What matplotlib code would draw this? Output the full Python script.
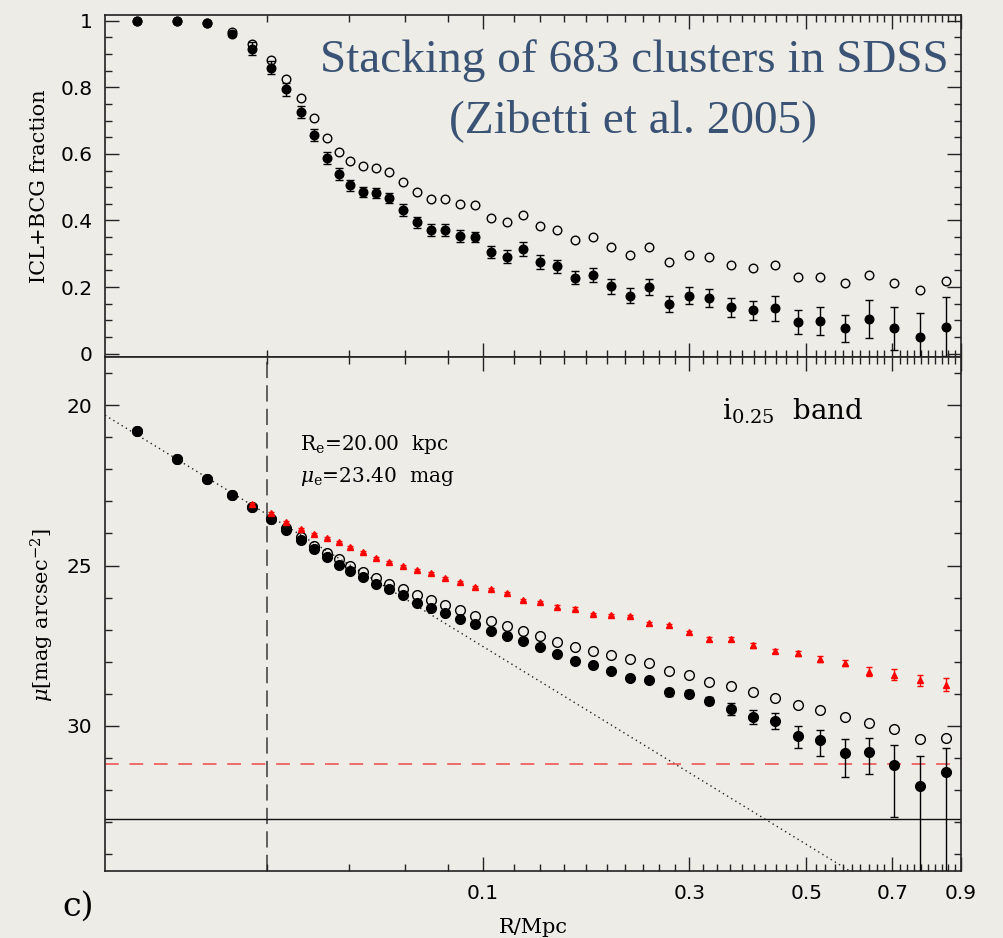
import numpy as np
import matplotlib
matplotlib.use("Agg")
import matplotlib.pyplot as plt
from matplotlib.ticker import FixedLocator, NullFormatter

plt.rcParams['mathtext.fontset'] = 'dejavuserif'

# radial bins (Mpc)
radius = [0.0049, 0.0080, 0.0111, 0.0144, 0.0175, 0.0207, 0.0238, 0.0270, 0.0302,
          0.0335, 0.0368, 0.0403, 0.0445, 0.0488, 0.0537, 0.0591, 0.0651, 0.0716,
          0.0788, 0.0866, 0.0952, 0.1050, 0.1155, 0.1268, 0.1398, 0.1536, 0.1691,
          0.1863, 0.2049, 0.2252, 0.2474, 0.2725, 0.2990, 0.3287, 0.3620, 0.3987,
          0.4381, 0.4824, 0.5290, 0.5832, 0.6411, 0.7049, 0.7764, 0.8533]

# ICL+BCG light fraction
frac_filled = [1.000, 1.000, 0.993, 0.961, 0.916, 0.859, 0.794, 0.726, 0.657, 0.588,
               0.540, 0.506, 0.486, 0.483, 0.467, 0.432, 0.394, 0.372, 0.371, 0.354,
               0.350, 0.305, 0.291, 0.314, 0.275, 0.262, 0.228, 0.236, 0.202, 0.174,
               0.200, 0.149, 0.174, 0.168, 0.139, 0.130, 0.136, 0.096, 0.098, 0.076,
               0.103, 0.076, 0.050, 0.081]
frac_err = [0.004, 0.004, 0.005, 0.008, 0.019, 0.019, 0.019, 0.018, 0.018, 0.018,
            0.018, 0.016, 0.015, 0.015, 0.016, 0.018, 0.016, 0.018, 0.018, 0.018,
            0.016, 0.018, 0.020, 0.020, 0.020, 0.020, 0.020, 0.021, 0.022, 0.022,
            0.023, 0.023, 0.025, 0.027, 0.028, 0.029, 0.037, 0.036, 0.041, 0.040,
            0.057, 0.065, 0.072, 0.088]
frac_open = [1.000, 1.000, 0.993, 0.966, 0.930, 0.881, 0.826, 0.768, 0.707, 0.649,
             0.607, 0.579, 0.563, 0.559, 0.546, 0.516, 0.485, 0.465, 0.464, 0.450,
             0.445, 0.408, 0.396, 0.416, 0.382, 0.371, 0.342, 0.349, 0.320, 0.296,
             0.319, 0.275, 0.296, 0.291, 0.266, 0.258, 0.265, 0.230, 0.231, 0.212,
             0.235, 0.213, 0.190, 0.218]

# surface brightness profiles (mag arcsec^-2)
mu_filled = [20.81, 21.68, 22.31, 22.80, 23.18, 23.55, 23.88, 24.21, 24.49, 24.74,
             24.98, 25.18, 25.36, 25.56, 25.74, 25.93, 26.16, 26.33, 26.49, 26.67,
             26.83, 27.04, 27.21, 27.35, 27.55, 27.76, 27.98, 28.09, 28.30, 28.50,
             28.56, 28.95, 28.99, 29.22, 29.47, 29.71, 29.84, 30.30, 30.45, 30.85,
             30.80, 31.22, 31.86, 31.43]
mu_err_lo = [0.02, 0.02, 0.02, 0.02, 0.02, 0.02, 0.02, 0.02, 0.02, 0.02,
             0.02, 0.02, 0.02, 0.02, 0.02, 0.02, 0.03, 0.03, 0.03, 0.03,
             0.03, 0.03, 0.04, 0.04, 0.04, 0.04, 0.05, 0.05, 0.05, 0.06,
             0.07, 0.10, 0.10, 0.11, 0.18, 0.20, 0.23, 0.30, 0.34, 0.44,
             0.43, 0.62, 0.94, 0.74]
mu_err_hi = [0.02, 0.02, 0.02, 0.02, 0.02, 0.02, 0.02, 0.02, 0.02, 0.02,
             0.02, 0.02, 0.02, 0.02, 0.02, 0.02, 0.03, 0.03, 0.03, 0.03,
             0.03, 0.03, 0.04, 0.04, 0.04, 0.04, 0.05, 0.05, 0.05, 0.06,
             0.07, 0.10, 0.10, 0.11, 0.18, 0.23, 0.26, 0.39, 0.49, 0.73,
             0.71, 1.61, 5.00, 5.00]
mu_open = [20.81, 21.68, 22.31, 22.80, 23.18, 23.55, 23.83, 24.11, 24.38, 24.60,
           24.81, 25.01, 25.19, 25.40, 25.56, 25.73, 25.92, 26.07, 26.24, 26.40,
           26.57, 26.72, 26.87, 27.03, 27.19, 27.37, 27.53, 27.66, 27.79, 27.91,
           28.05, 28.29, 28.41, 28.63, 28.75, 28.95, 29.12, 29.35, 29.51, 29.72,
           29.90, 30.10, 30.40, 30.37]

# red profile starts at the fifth bin
mu_red = [23.09, 23.37, 23.63, 23.85, 24.01, 24.15, 24.27, 24.43, 24.59, 24.75,
          24.89, 25.01, 25.13, 25.23, 25.39, 25.51, 25.67, 25.73, 25.86, 26.07,
          26.14, 26.28, 26.34, 26.51, 26.54, 26.57, 26.80, 26.86, 27.08, 27.28,
          27.30, 27.49, 27.67, 27.74, 27.91, 28.03, 28.31, 28.40, 28.58, 28.71]
mu_red_err = [0.03, 0.03, 0.03, 0.03, 0.03, 0.03, 0.03, 0.03, 0.03, 0.03,
              0.03, 0.03, 0.03, 0.03, 0.03, 0.03, 0.03, 0.03, 0.04, 0.04,
              0.04, 0.04, 0.04, 0.04, 0.04, 0.04, 0.05, 0.05, 0.05, 0.06,
              0.06, 0.07, 0.07, 0.07, 0.08, 0.10, 0.14, 0.17, 0.18, 0.21]

# de Vaucouleurs fit and limits
r_e = 0.02
mu_e = 23.40
mu_limit_red = 31.17
mu_limit_black = 32.9

x_min, x_max = 0.00314, 0.9

bg = '#eeece7'
fig = plt.figure(figsize=(10.04, 9.38), dpi=100, facecolor=bg)
ax1 = fig.add_axes([0.1046, 0.6194, 0.8526, 0.3646], facecolor=bg)
ax2 = fig.add_axes([0.1046, 0.0714, 0.8526, 0.5480], facecolor=bg)

fwd = lambda r: np.sign(r) * np.abs(r) ** 0.25
inv = lambda u: np.sign(u) * np.abs(u) ** 4

r = np.array(radius)
red_r = r[len(r) - len(mu_red):]

# --- top: ICL+BCG fraction ---
ax1.errorbar(r, frac_filled, yerr=frac_err, fmt='o', color='black', ms=6.2,
             capsize=2.8, elinewidth=1.0, capthick=1.0, zorder=3)
ax1.plot(r, frac_open, 'o', mfc='none', mec='black', mew=1.0, ms=6.2, zorder=2)
ax1.set_ylim(-0.01, 1.017)

# --- bottom: surface brightness ---
rr = np.linspace(x_min, x_max, 400)
ax2.plot(rr, mu_e + 8.3268 * ((rr / r_e) ** 0.25 - 1), color='#222222',
         ls=(0, (1, 2.5)), lw=1.0, zorder=1)
ax2.axvline(r_e, color='#555555', ls=(0, (9, 4)), lw=1.3, zorder=1)
ax2.axhline(mu_limit_red, color='#ee4848', ls=(0, (9, 7)), lw=1.1, zorder=1)
ax2.axhline(mu_limit_black, color='#111111', lw=1.0, zorder=1)

ax2.plot(r, mu_open, 'o', mfc='none', mec='black', mew=1.0, ms=7, zorder=2)
ax2.errorbar(r, mu_filled, yerr=[mu_err_lo, mu_err_hi], fmt='o', color='black',
             ms=7, capsize=3, elinewidth=1.0, capthick=1.0, zorder=3)
ax2.errorbar(red_r, mu_red, yerr=mu_red_err, fmt='^', color='#ff0000', ms=5,
             capsize=2.5, elinewidth=1.0, capthick=1.0, zorder=4)
ax2.set_ylim(34.52, 18.5)

major_x = [0.1, 0.3, 0.5, 0.7, 0.9]
minor_x = [v for v in np.round(np.arange(0.02, 0.9, 0.02), 2) if v not in major_x]

for ax in (ax1, ax2):
    ax.set_xscale('function', functions=(fwd, inv))
    ax.set_xlim(x_min, x_max)
    ax.xaxis.set_major_locator(FixedLocator(major_x))
    ax.xaxis.set_minor_locator(FixedLocator(minor_x))
    ax.xaxis.set_minor_formatter(NullFormatter())
    ax.tick_params(which='both', direction='in', top=True, right=True,
                   width=1.0, color='#222222', labelsize=14.5, pad=9)
    ax.tick_params(which='major', length=10)
    ax.tick_params(which='minor', length=5)
    for s in ax.spines.values():
        s.set_linewidth(1.2)
        s.set_color('#222222')

ax1.set_yticks([0, 0.2, 0.4, 0.6, 0.8, 1.0])
ax1.set_yticklabels(['0', '0.2', '0.4', '0.6', '0.8', '1'])
ax1.yaxis.set_minor_locator(FixedLocator(np.arange(0, 1.01, 0.05)))
ax1.tick_params(axis='x', labelbottom=False)

ax2.set_yticks([20, 25, 30])
ax2.yaxis.set_minor_locator(FixedLocator(np.arange(19, 35, 1)))
ax2.set_xticklabels(['0.1', '0.3', '0.5', '0.7', '0.9'])

# labels and annotations
serif = 'DejaVu Serif'
fig.text(0.039, 0.801, 'ICL+BCG fraction', rotation=90, ha='center', va='center',
         fontsize=15, family=serif)
fig.text(0.042, 0.344, r'$\mu$[mag arcsec$^{-2}$]', rotation=90, ha='center',
         va='center', fontsize=15, family=serif)
fig.text(0.531, 0.011, 'R/Mpc', ha='center', va='center', fontsize=15, family=serif)
fig.text(0.078, 0.033, 'c)', ha='center', va='center', fontsize=24, family=serif)

ax2.text(0.228, 0.829, r'R$_{\rm e}$=20.00  kpc', transform=ax2.transAxes,
         ha='left', va='center', fontsize=14.5, family=serif)
ax2.text(0.228, 0.767, r'$\mu_{\rm e}$=23.40  mag', transform=ax2.transAxes,
         ha='left', va='center', fontsize=14.5, family=serif)
ax2.text(0.721, 0.895, r'i$_{0.25}$  band', transform=ax2.transAxes,
         ha='left', va='center', fontsize=20, family=serif)

title_color = '#3a5374'
fig.text(0.6315, 0.935, 'Stacking of 683 clusters in SDSS', ha='center', va='center',
         fontsize=34, family='Liberation Serif', color=title_color)
fig.text(0.6300, 0.871, '(Zibetti et al. 2005)', ha='center', va='center',
         fontsize=34, family='Liberation Serif', color=title_color)

fig.savefig('out.png', dpi=100, facecolor=bg)
